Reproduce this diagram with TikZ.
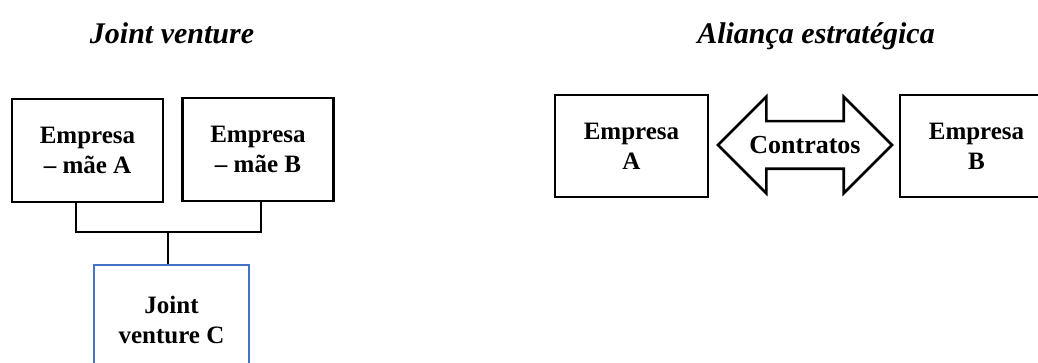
\documentclass[tikz,border=0pt]{standalone}
\usepackage{fontspec}
\setmainfont{Liberation Serif}
\usetikzlibrary{shapes.arrows}
\definecolor{jvblue}{RGB}{68,114,196}

\tikzset{
    firma/.style={draw, line width=2.8pt, minimum width=151pt, minimum height=103pt,
        align=center, font=\fontsize{25}{30}\selectfont\bfseries},
    titulo/.style={anchor=base, font=\fontsize{30}{36}\selectfont\bfseries\itshape},
}

\begin{document}
\begin{tikzpicture}[x=1pt,y=1pt]
    \useasboundingbox (0,0) rectangle (1038,363);
    \clip (0,0) rectangle (1038,363);

    \node[titulo] (tjv) at (172,319) {Joint venture};
    \node[titulo] (tal) at (816,319) {Aliança estratégica};

    % joint venture
    \node[firma] (ma) at (87.5,212.5) {Empresa\\– mãe A};
    \node[firma] (mb) at (258,213.5) {Empresa\\– mãe B};
    \node[firma, draw=jvblue, line width=2.2pt, minimum width=155pt, minimum height=110pt]
        (jv) at (171.5,43) {Joint\\venture C};

    \coordinate (j) at (168,131);
    \draw[line width=1.2pt] ([xshift=-11.5pt]ma.south) |- (j) -| ([xshift=3pt]mb.south);
    \draw[line width=1.8pt] (j) -- (j |- jv.north);

    % alianca
    \node[firma, minimum width=153pt, minimum height=102pt] (ea) at (631.5,217) {Empresa\\A};
    \node[firma, minimum width=153pt, minimum height=102pt] (eb) at (976.5,217) {Empresa\\B};
    \node[double arrow, draw, line width=2.6pt, double arrow head extend=24.5pt,
        minimum height=174pt, inner xsep=0pt, inner ysep=13.5pt, text height=18pt, text depth=0pt,
        font=\fontsize{26}{30}\selectfont\bfseries] (ctr) at (805,218) {Contratos};
\end{tikzpicture}
\end{document}
